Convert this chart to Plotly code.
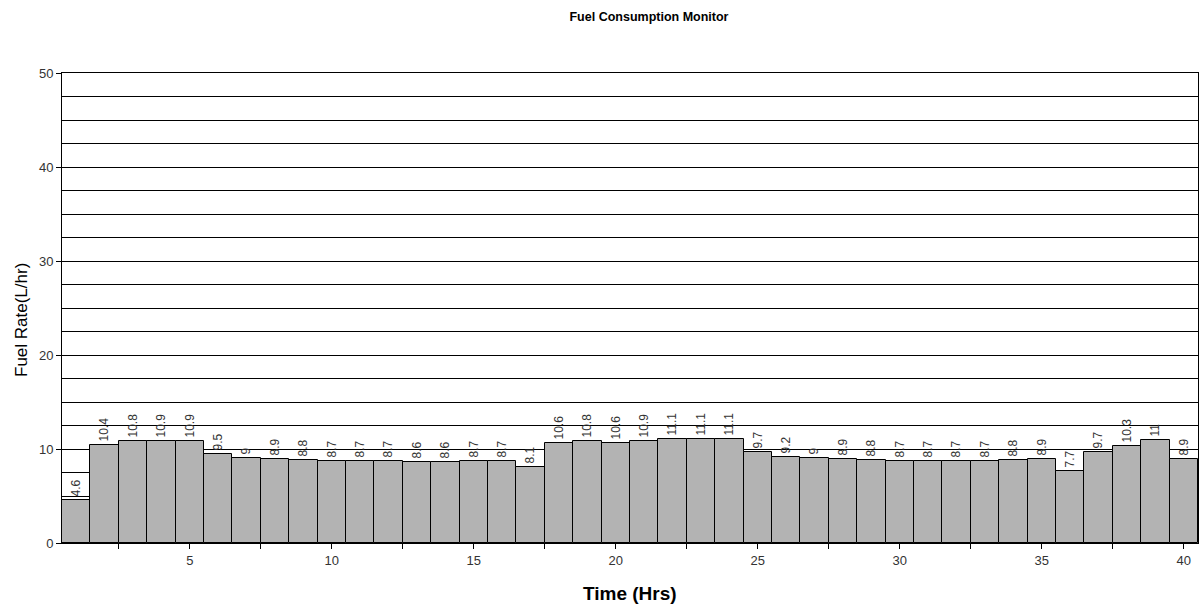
import plotly.graph_objects as go

hours = list(range(1, 41))
fuel_rate = [4.6, 10.4, 10.8, 10.9, 10.9, 9.5, 9, 8.9, 8.8, 8.7,
             8.7, 8.7, 8.6, 8.6, 8.7, 8.7, 8.1, 10.6, 10.8, 10.6,
             10.9, 11.1, 11.1, 11.1, 9.7, 9.2, 9, 8.9, 8.8, 8.7,
             8.7, 8.7, 8.7, 8.8, 8.9, 7.7, 9.7, 10.3, 11, 8.9]
x_ticks = [5, 10, 15, 20, 25, 30, 35, 40]
y_ticks = [0, 10, 20, 30, 40, 50]

FONT = "Liberation Sans, Arial, sans-serif"
W, H = 1204, 608

fig = go.Figure(go.Bar(
    x=hours, y=fuel_rate,
    marker=dict(color="#b3b3b3", line=dict(color="#000000", width=1)),
    text=[str(v) for v in fuel_rate],
    textposition="outside", textangle=-90, constraintext="none",
    cliponaxis=False,
    textfont=dict(family=FONT, size=12, color="#333333"),
))

fig.update_layout(
    width=W, height=H,
    margin=dict(l=62, r=6, t=73, b=65, autoexpand=False),
    paper_bgcolor="white", plot_bgcolor="white",
    bargap=0, showlegend=False,
    font=dict(family=FONT, color="#333333"),
    title=dict(text="<b>Fuel Consumption Monitor</b>", x=649 / W, xanchor="center",
               y=1 - 17 / H, yanchor="middle",
               font=dict(family=FONT, size=12.5, color="#000000")),
    annotations=[
        dict(text="Fuel Rate(L/hr)", xref="paper", yref="paper",
             x=(21 - 62) / (W - 68), y=(543 - 320) / (543 - 73),
             xanchor="center", yanchor="middle", textangle=-90, showarrow=False,
             font=dict(family=FONT, size=17, color="#000000")),
        dict(text="<b>Time (Hrs)</b>", xref="paper", yref="paper",
             x=(630 - 62) / (W - 68), y=(543 - 593) / (543 - 73),
             xanchor="center", yanchor="middle", showarrow=False,
             font=dict(family=FONT, size=19, color="#000000")),
    ],
)

fig.update_xaxes(
    range=[0.5, 40.5], tickvals=x_ticks, ticktext=[str(t) for t in x_ticks],
    ticks="outside", ticklen=5, tickcolor="#000000", tickwidth=1,
    minor=dict(tick0=0, dtick=2.5, ticks="outside", ticklen=5, tickcolor="#000000", showgrid=False),
    showgrid=False, showline=True, linecolor="#000000", linewidth=1, mirror=True,
    zeroline=False, automargin=False,
    tickfont=dict(family=FONT, size=13, color="#333333"),
)

fig.update_yaxes(
    range=[0, 50], tickvals=y_ticks,
    ticks="outside", ticklen=5, tickcolor="#000000", tickwidth=1,
    showgrid=True, gridcolor="#000000", gridwidth=1,
    minor=dict(tick0=0, dtick=2.5, showgrid=True, gridcolor="#000000", gridwidth=1, ticks=""),
    showline=True, linecolor="#000000", linewidth=1, mirror=True,
    zeroline=False, automargin=False,
    tickfont=dict(family=FONT, size=13, color="#333333"),
)

fig.write_html("out.html", config={"displayModeBar": False},
               post_script="document.body.style.margin='0';document.body.style.overflow='hidden';")
